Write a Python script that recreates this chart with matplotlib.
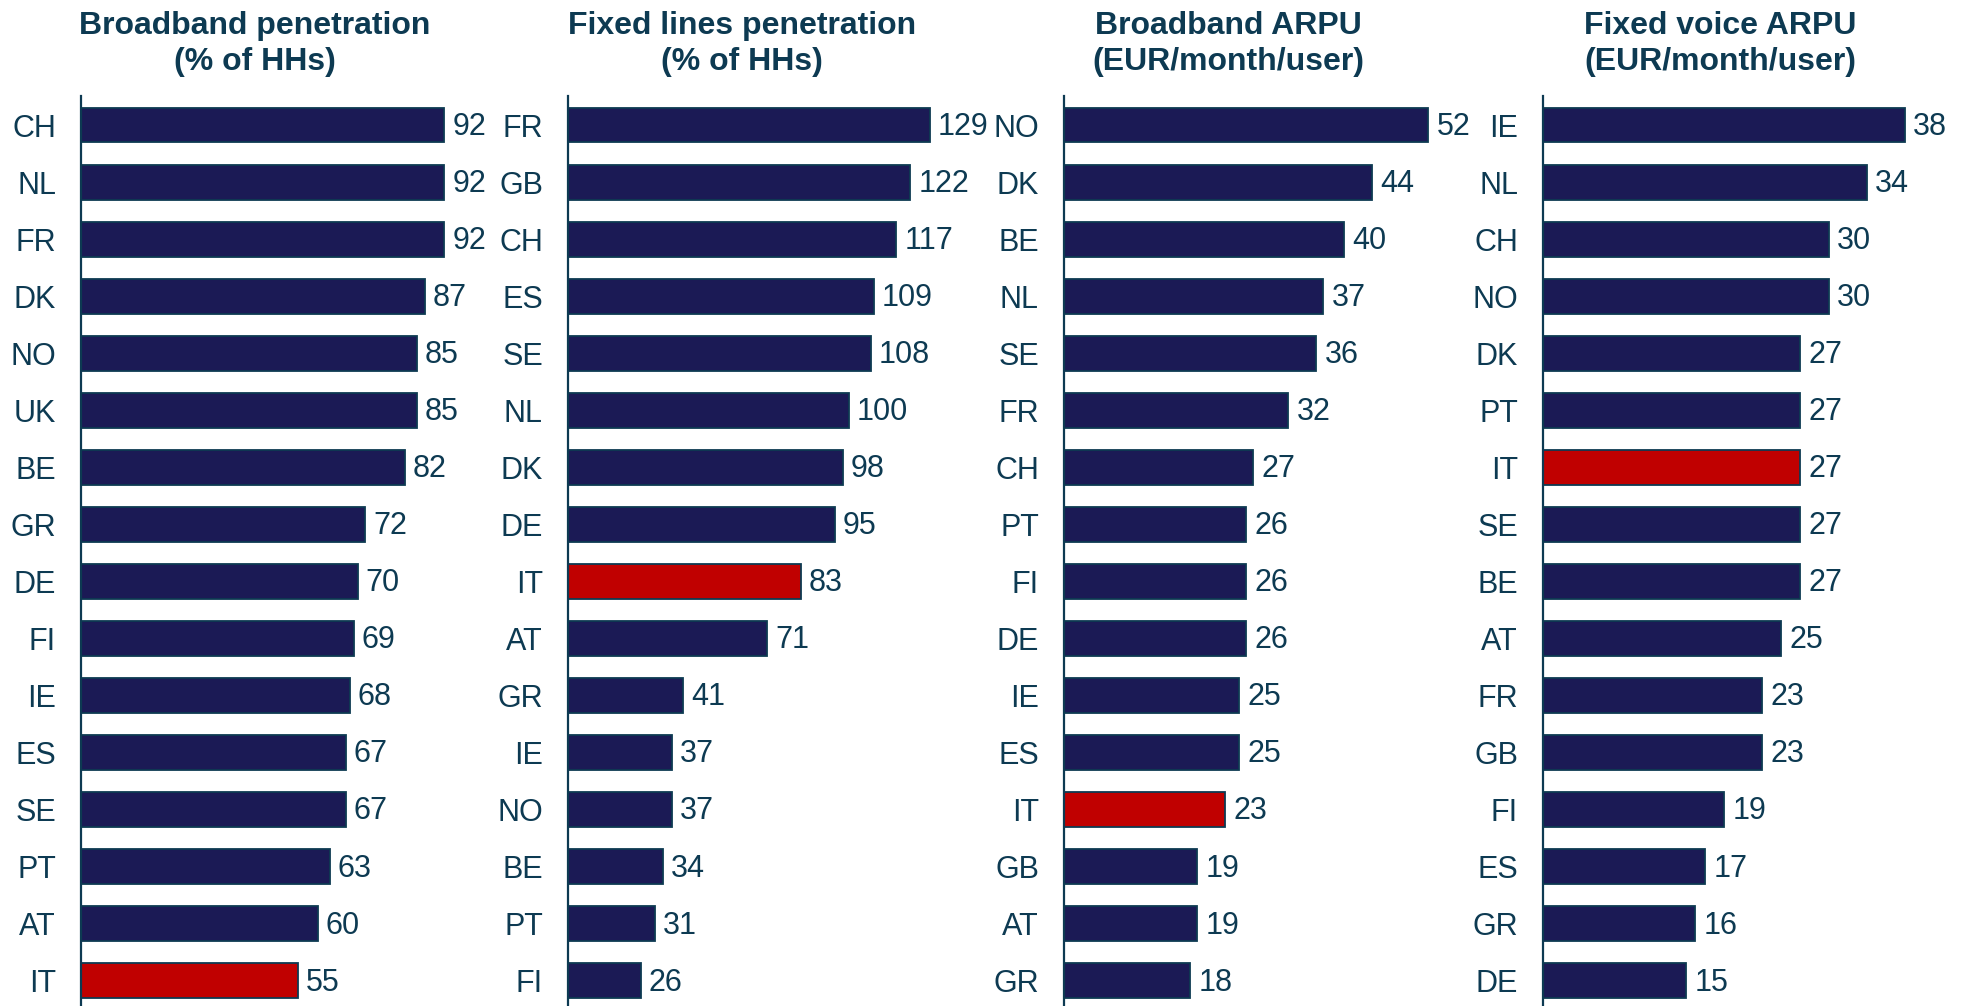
import matplotlib.pyplot as plt

plt.rcParams['font.family'] = ['Liberation Sans', 'DejaVu Sans']

# data
titles = ["Broadband penetration\n(% of HHs)",
          "Fixed lines penetration\n(% of HHs)",
          "Broadband ARPU\n(EUR/month/user)",
          "Fixed voice ARPU\n(EUR/month/user)"]

bb_pen_countries = ["CH", "NL", "FR", "DK", "NO", "UK", "BE", "GR", "DE", "FI", "IE", "ES", "SE", "PT", "AT", "IT"]
bb_pen_values = [92, 92, 92, 87, 85, 85, 82, 72, 70, 69, 68, 67, 67, 63, 60, 55]

fl_pen_countries = ["FR", "GB", "CH", "ES", "SE", "NL", "DK", "DE", "IT", "AT", "GR", "IE", "NO", "BE", "PT", "FI"]
fl_pen_values = [129, 122, 117, 109, 108, 100, 98, 95, 83, 71, 41, 37, 37, 34, 31, 26]

bb_arpu_countries = ["NO", "DK", "BE", "NL", "SE", "FR", "CH", "PT", "FI", "DE", "IE", "ES", "IT", "GB", "AT", "GR"]
bb_arpu_values = [52, 44, 40, 37, 36, 32, 27, 26, 26, 26, 25, 25, 23, 19, 19, 18]

fv_arpu_countries = ["IE", "NL", "CH", "NO", "DK", "PT", "IT", "SE", "BE", "AT", "FR", "GB", "FI", "ES", "GR", "DE"]
fv_arpu_values = [38, 34, 30, 30, 27, 27, 27, 27, 27, 25, 23, 23, 19, 17, 16, 15]

highlight = "IT"

# styling
NAVY = "#1B1A55"
RED = "#C00000"
EDGE = "#0D3A52"
TXT = "#0D3A52"

W, H = 1964, 1006
fig = plt.figure(figsize=(W / 100, H / 100), dpi=100)

# pixel layout of each panel: axis line x, x-limit, axis right edge x, title centre x
panels = [
    (bb_pen_countries, bb_pen_values, 81, 100, 476, 255),
    (fl_pen_countries, fl_pen_values, 568, 140, 961, 742),
    (bb_arpu_countries, bb_arpu_values, 1064, 60, 1484, 1228),
    (fv_arpu_countries, fv_arpu_values, 1543, 44, 1962, 1720),
]

top_px = 96
for (countries, values, x0, xmax, x1, tx), title in zip(panels, titles):
    ax = fig.add_axes([x0 / W, 0, (x1 - x0) / W, (H - top_px) / H])
    pos = list(range(len(countries)))
    colors = [RED if c == highlight else NAVY for c in countries]
    ax.barh(pos, values, height=0.61, color=colors, edgecolor=EDGE, linewidth=1.3)
    for p, v in zip(pos, values):
        ax.text(v + xmax * 0.02, p + 0.03, str(v), va='center', ha='left', fontsize=22, color=TXT)
    ax.set_xlim(0, xmax)
    ax.set_ylim(15.44, -0.51)
    ax.set_yticks(pos)
    ax.set_yticklabels(countries, fontsize=22, color=TXT)
    ax.tick_params(axis='y', length=0, pad=18)
    ax.set_xticks([])
    for s in ['top', 'right', 'bottom']:
        ax.spines[s].set_visible(False)
    ax.spines['left'].set_color(EDGE)
    ax.spines['left'].set_linewidth(1.6)
    ax.patch.set_alpha(0)

    fig.text(tx / W, 1 - 44 / H, title, ha='center', va='center',
             fontsize=23, fontweight='bold', color=TXT, linespacing=1.3)

fig.savefig("out.png", dpi=100)
